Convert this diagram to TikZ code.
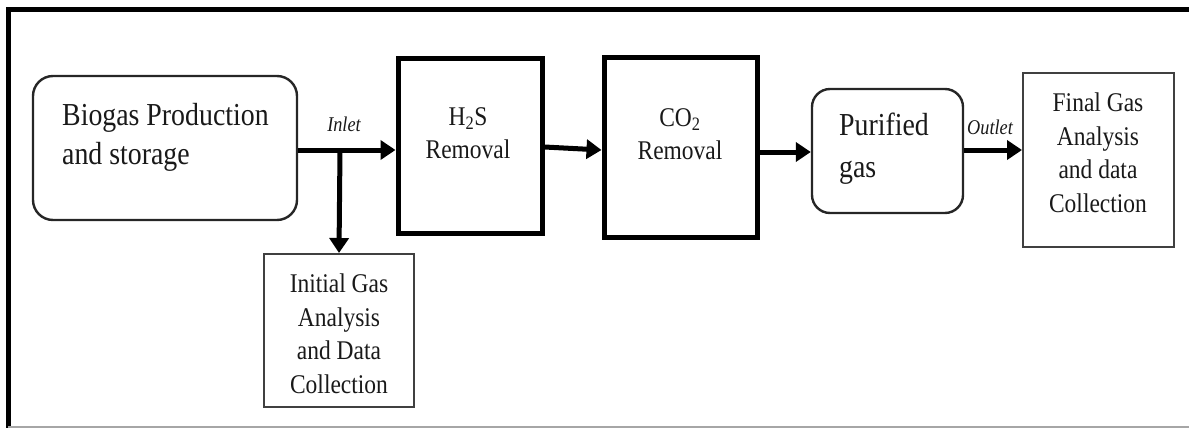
\documentclass[tikz,border=0pt]{standalone}
\usepackage{fontspec}
\setmainfont{Liberation Serif}[FakeStretch=0.87]
\usetikzlibrary{arrows.meta}
\begin{document}
\begin{tikzpicture}[x=1pt,y=-1pt,
  roundbox/.style={draw=black!85, line width=2.4pt, rounded corners=20pt, inner sep=0pt},
  thickbox/.style={draw=black, line width=5pt, inner sep=0pt},
  thinbox/.style={draw=black!75, line width=2pt, inner sep=0pt},
  lbl/.style={inner sep=0pt, text=black!90},
  smalltxt/.style={lbl, align=center, font=\fontsize{27}{33.5}\selectfont},
  bigtxt/.style={lbl, align=left, anchor=west},
  flow/.style={line width=5pt, -{Triangle[length=15pt,width=19pt]}},
  port/.style={lbl, font=\itshape\fontsize{21}{22}\selectfont}
]
\useasboundingbox (0,0) rectangle (1189,428);
% frame
\draw[line width=5pt] (6,10) -- (1189,10);
\draw[line width=5pt] (8.5,8) -- (8.5,428);
\draw[line width=1.5pt, black!35] (8,427) -- (1189,427);
% boxes
\node[roundbox, minimum width=264pt, minimum height=144pt] (bio) at (165,148) {};
\node[bigtxt, font=\fontsize{32}{39}\selectfont] (biot) at (62,137) {Biogas Production\\and storage};
\node[thickbox, minimum width=144pt, minimum height=174pt] (h2s) at (470,146) {};
\node[smalltxt] (h2st) at (468,133) {H\textsubscript{2}S\\Removal};
\node[thickbox, minimum width=153pt, minimum height=179pt] (co2) at (680.5,147.5) {};
\node[smalltxt] (co2t) at (680,134) {CO\textsubscript{2}\\Removal};
\node[roundbox, rounded corners=18pt, minimum width=151pt, minimum height=124pt] (pur) at (887.5,151) {};
\node[bigtxt, font=\fontsize{32}{42}\selectfont] (purt) at (839,149) {Purified\\gas};
\node[thinbox, minimum width=151pt, minimum height=174pt] (fin) at (1098.5,160) {};
\node[smalltxt] (fint) at (1098,153) {Final Gas\\Analysis\\and data\\Collection};
\node[thinbox, minimum width=150pt, minimum height=153pt] (ini) at (339,330.5) {};
\node[smalltxt] (init) at (339,334) {Initial Gas\\Analysis\\and Data\\Collection};
% connectors
\coordinate (j) at (340,150);
\draw[flow] (bio.east |- j) -- (h2s.west |- j);
\draw[flow] (j) -- (ini.north);
\draw[flow] (h2s.east |- 0,147) -- (co2.west |- 0,150);
\draw[flow] (co2.east |- 0,152) -- (pur.west |- 0,152);
\draw[flow] (pur.east |- 0,150) -- (fin.west |- 0,150);
\node[port] (inl) at (344,124) {Inlet};
\node[port] (outl) at (990,127) {Outlet};
\end{tikzpicture}
\end{document}
